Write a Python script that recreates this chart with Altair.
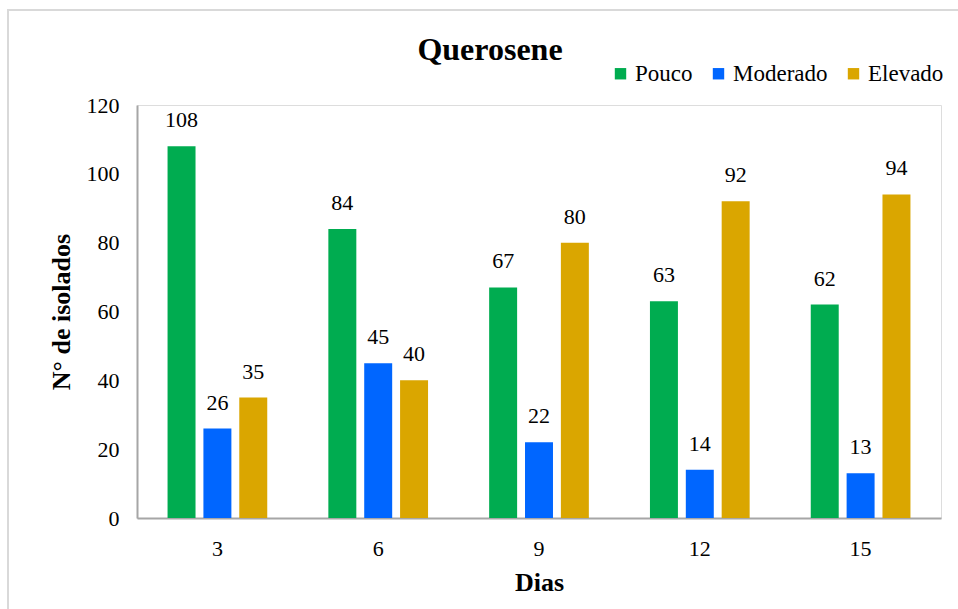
import altair as alt
import pandas as pd

dias = ["3", "6", "9", "12", "15"]
series = ["Pouco", "Moderado", "Elevado"]
pouco = [108, 84, 67, 63, 62]
moderado = [26, 45, 22, 14, 13]
elevado = [35, 40, 80, 92, 94]
colors = ["#00AC50", "#0066FF", "#DAA600"]

rows = []
for i, d in enumerate(dias):
    for s, vals in zip(series, [pouco, moderado, elevado]):
        rows.append({"Dias": d, "Serie": s, "Valor": vals[i]})
df = pd.DataFrame(rows)

FONT = "Liberation Serif"

base = alt.Chart(df).encode(
    x=alt.X("Dias:N", sort=dias,
            scale=alt.Scale(paddingInner=0.38, paddingOuter=0.19),
            axis=alt.Axis(title="Dias", labelAngle=0, ticks=False, grid=False,
                          domainColor="#A6A6A6", domainWidth=2,
                          labelFont=FONT, labelFontSize=22, labelColor="#000",
                          labelPadding=20, titleFont=FONT, titleFontSize=26,
                          titleFontWeight="bold", titleColor="#000", titlePadding=10)),
    xOffset=alt.XOffset("Serie:N", sort=series, scale=alt.Scale(paddingInner=0.22)),
    y=alt.Y("Valor:Q", scale=alt.Scale(domain=[0, 120]),
            axis=alt.Axis(title="N° de isolados", values=[0, 20, 40, 60, 80, 100, 120],
                          ticks=False, grid=False, domainColor="#A6A6A6", domainWidth=2,
                          labelFont=FONT, labelFontSize=22, labelColor="#000",
                          labelPadding=18, titleFont=FONT, titleFontSize=26,
                          titleFontWeight="bold", titleColor="#000", titlePadding=12)),
)

bars = base.mark_bar().encode(
    color=alt.Color("Serie:N", sort=series,
                    scale=alt.Scale(domain=series, range=colors),
                    legend=alt.Legend(title=None, orient="none", direction="horizontal",
                                      legendX=472, legendY=-43, symbolType="square",
                                      symbolSize=130, symbolStrokeWidth=0,
                                      labelFont=FONT, labelFontSize=23, labelColor="#000",
                                      columnPadding=14, labelOffset=3))
)

labels = base.mark_text(baseline="bottom", dy=-14, font=FONT, fontSize=22, color="#000").encode(
    text=alt.Text("Valor:Q")
)

border = alt.Chart(pd.DataFrame({"a": [0]})).mark_rect(
    fill=None, stroke="#D9D9D9", strokeWidth=2
).encode(
    x=alt.value(-129), x2=alt.value(840), y=alt.value(-95), y2=alt.value(520)
)

chart = alt.layer(border, bars, labels).properties(
    width=804, height=413,
    title=alt.TitleParams("Querosene", font=FONT, fontSize=32, fontWeight="bold",
                          color="#000", anchor="middle", dx=-49, offset=-83,
                          baseline="alphabetic"),
    autosize="none",
    padding={"left": 137, "top": 105, "right": 17, "bottom": 91},
).configure_view(stroke=None).configure(background="white")

chart.save("out.html", embed_options={"renderer": "svg", "actions": False})
